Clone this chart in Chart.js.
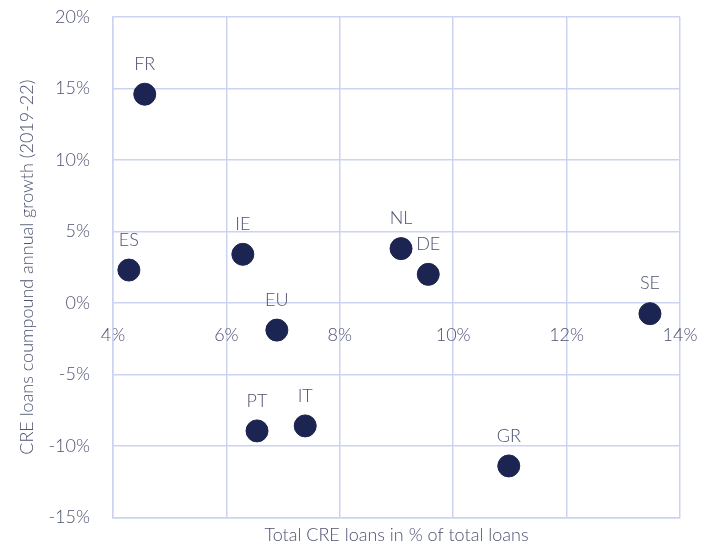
<!DOCTYPE html>
<html>
<head>
<meta charset="utf-8">
<script src="https://cdn.jsdelivr.net/npm/chart.js@4"></script>
<style>
  html, body { margin: 0; padding: 0; background: #fff; }
  #wrap { width: 707px; height: 548px; }
</style>
</head>
<body>
<div id="wrap"><canvas id="myChart"></canvas></div>
<script>
"use strict";

const countries = ["FR", "ES", "IE", "NL", "DE", "SE", "EU", "PT", "IT", "GR"];
const creShare = [4.56, 4.28, 6.29, 9.08, 9.56, 13.47, 6.89, 6.54, 7.39, 10.98];
const creGrowth = [14.6, 2.3, 3.4, 3.8, 2.0, -0.75, -1.9, -8.95, -8.6, -11.4];

const textColor = "#4d5270";
const gridColor = "#ccd3f1";
const dotColor = "#1c2551";
const font = { family: "Lato, 'Open Sans', sans-serif", size: 18, weight: "300" };

// country codes over each dot
const pointLabels = {
  id: "pointLabels",
  afterDatasetsDraw(chart) {
    const meta = chart.getDatasetMeta(0);
    const c = chart.ctx;
    c.save();
    c.fillStyle = textColor;
    c.font = `${font.weight} ${font.size}px ${font.family}`;
    c.textAlign = "center";
    c.textBaseline = "middle";
    meta.data.forEach((pt, i) => {
      c.fillText(countries[i], pt.x, pt.y - 30);
    });
    c.restore();
  },
};

const ctx = document.getElementById("myChart");

new Chart(ctx, {
  type: "scatter",
  data: {
    datasets: [
      {
        data: creShare.map((x, i) => ({ x: x, y: creGrowth[i] })),
        backgroundColor: dotColor,
        borderColor: dotColor,
        pointRadius: 11,
        pointHoverRadius: 11,
      },
    ],
  },
  options: {
    responsive: true,
    maintainAspectRatio: false,
    animation: false,
    layout: { padding: { top: 17, right: 27, left: 16, bottom: 0 } },
    plugins: { legend: { display: false }, tooltip: { enabled: false } },
    scales: {
      x: {
        type: "linear",
        min: 4,
        max: 14,
        position: "bottom",
        ticks: { display: false, stepSize: 2 },
        grid: { color: gridColor, lineWidth: 1.5, drawTicks: false },
        border: { color: gridColor, width: 1.5 },
        title: {
          display: true,
          text: "Total CRE loans in % of total loans",
          color: textColor,
          font: font,
          padding: { top: 7, bottom: 2 },
        },
      },
      x2: {
        type: "linear",
        axis: "x",
        min: 4,
        max: 14,
        position: { y: 0 },
        grid: { display: false, drawTicks: true, tickLength: 18, tickColor: "transparent" },
        border: { display: false },
        ticks: {
          stepSize: 2,
          padding: 3,
          color: textColor,
          font: font,
          callback: (v) => v + "%",
        },
      },
      y: {
        type: "linear",
        min: -15,
        max: 20,
        afterFit: (scale) => { scale.width = 97; },
        ticks: {
          stepSize: 5,
          padding: 3,
          color: textColor,
          font: font,
          callback: (v) => v + "%",
        },
        grid: { color: gridColor, lineWidth: 1.5, drawTicks: true, tickLength: 20, tickColor: "transparent" },
        border: { color: gridColor, width: 1.5 },
        title: {
          display: true,
          text: "CRE loans coumpound annual growth (2019-22)",
          color: textColor,
          font: font,
          padding: { top: 0, bottom: 4 },
        },
      },
    },
  },
  plugins: [pointLabels],
});
</script>
</body>
</html>
